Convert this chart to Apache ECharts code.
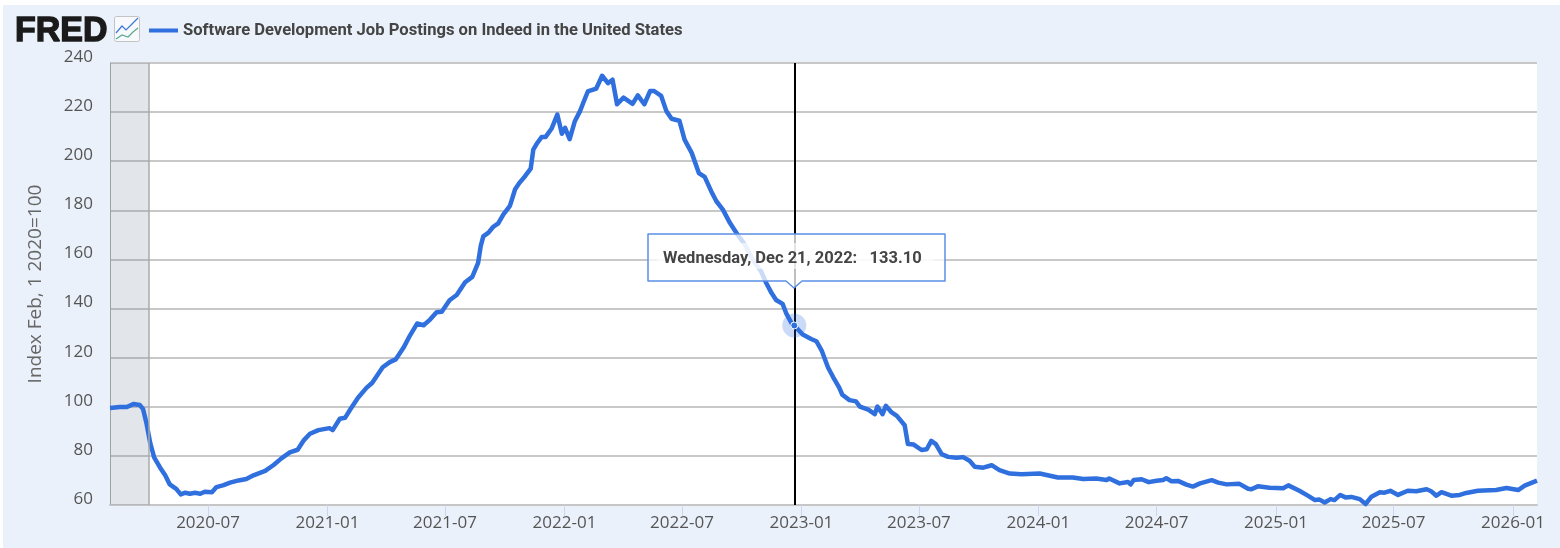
<!DOCTYPE html>
<html><head><meta charset="utf-8">
<script src="https://cdn.jsdelivr.net/npm/echarts@6/dist/echarts.min.js"></script>
<style>html,body{margin:0;padding:0;background:#fff}#c{width:1560px;height:548px}</style>
</head><body><div id="c"></div>
<script>
const seriesName = 'Software Development Job Postings on Indeed in the United States';
const yAxisTitle = 'Index Feb, 1 2020=100';
const startDate = '2020-02-01';
const endDate = '2026-02-07';
const recessionEnd = '2020-04-01';
const xTickLabels = ['2020-07','2021-01','2021-07','2022-01','2022-07','2023-01','2023-07','2024-01','2024-07','2025-01','2025-07','2026-01'];
const yTicks = [60,80,100,120,140,160,180,200,220,240];
const dayOffsets = [0,3,15,26,36,46,51,56,62,68,77,85,92,102,109,116,123,131,139,146,157,164,175,185,198,210,221,239,252,264,277,289,298,308,321,338,343,354,362,371,382,395,404,420,431,440,452,462,473,483,493,503,511,523,534,547,558,567,571,575,583,590,598,606,616,624,631,639,648,652,657,665,671,680,689,696,701,708,716,724,729,736,749,758,767,774,781,791,805,813,823,832,838,849,857,865,877,885,896,907,916,926,934,944,955,967,978,990,1003,1011,1019,1026,1036,1042,1050,1054,1067,1080,1088,1096,1106,1114,1123,1128,1139,1149,1155,1168,1178,1182,1190,1195,1204,1212,1224,1229,1238,1250,1258,1265,1272,1281,1291,1304,1314,1324,1332,1345,1358,1370,1386,1404,1432,1460,1483,1499,1519,1535,1539,1555,1568,1572,1577,1589,1600,1612,1622,1627,1635,1645,1658,1668,1679,1697,1707,1720,1739,1753,1758,1768,1786,1807,1815,1832,1845,1856,1863,1871,1880,1886,1895,1903,1912,1925,1934,1943,1956,1963,1972,1984,1999,2012,2028,2035,2043,2051,2066,2079,2089,2107,2135,2151,2169,2179,2198];
const postings = [99.5,99.7,99.9,99.9,101.1,100.7,99,93.5,85.2,79.4,75.3,72.1,68.4,66.6,64.3,65,64.6,65,64.6,65.4,65.2,67.3,68.1,69.1,70,70.6,72.1,73.9,76.3,79,81.4,82.5,86.2,89,90.5,91.3,90.5,95.1,95.5,99.3,103.7,107.7,109.8,116.1,118.2,119.3,124,129,133.9,133.2,135.5,138.5,138.7,143.4,145.5,150.7,152.9,158.6,165.4,169.4,170.9,173.2,174.7,178.4,181.8,188.6,191.3,193.8,197,204.7,207,209.9,209.9,213.2,219,211.2,213.6,209,216.3,220.4,223.8,228.4,229.6,234.8,231.8,233.2,223.2,225.9,223.4,226.8,223.2,228.6,228.6,226.6,220.4,217.3,216.5,208.8,203.4,195.2,193.6,187.8,183.7,180.3,174.8,170,166,159.9,155.1,150.3,146.3,143.5,141.9,137.8,134,133.1,129.4,127.6,126.7,123,116,112,107.9,104.9,102.7,102.2,100.1,98.8,97,100.1,97,100.4,97.7,96.3,92.5,84.8,84.6,82.4,82.7,86.1,84.8,80.7,79.6,79.2,79.5,78,75.6,75.2,76.2,74.2,72.8,72.5,72.8,71.2,71.2,70.6,70.8,70.2,70.8,68.8,69.4,68.4,70.2,70.5,69.3,69.9,70.2,70.9,69.7,69.8,68.3,67.5,68.8,70.1,69.1,68.4,68.7,66.6,66.4,67.6,67,66.8,68,65.8,63.8,62,62.2,61,62.4,62,64.1,63.1,63.3,62.4,60.4,63.4,65.2,65,65.8,64.1,65.8,65.6,66.4,65.6,63.8,65.2,63.8,64.1,64.9,65.8,66.1,66.9,66.1,67.9,69.9];
const tipDate = '2022-12-21';
const tipDateLabel = 'Wednesday, Dec 21, 2022';
const tipValue = 133.10;

const BLUE = '#2f6fde';
const DAY = 86400000;
const ts = s => Date.parse(s + (s.length === 7 ? '-01' : '') + 'T00:00:00Z');
const seriesData = dayOffsets.map((d, i) => [ts(startDate) + d * DAY, postings[i]]);
const xTicks = xTickLabels.map(ts);
const SANS = '"Open Sans", sans-serif';

const chart = echarts.init(document.getElementById('c'), null, {renderer: 'canvas'});
chart.setOption({
  animation: false,
  textStyle: {fontFamily: SANS},
  graphic: [
    {type: 'rect', z: -10, silent: true, shape: {x: 3, y: 5, width: 1557, height: 543}, style: {fill: '#ebf1fa'}},
    {type: 'text', x: 15, y: 14, scaleX: 0.97, style: {text: 'FRED', fill: '#1a1a1a', stroke: '#1a1a1a', lineWidth: 1.4, font: 'bold 35px "Liberation Sans", sans-serif'}},
    {type: 'group', children: [
      {type: 'rect', shape: {x: 114.5, y: 16.5, width: 25, height: 25, r: 2}, style: {fill: '#f7f9fc', stroke: '#c4c4c4', lineWidth: 1}},
      {type: 'polyline', shape: {points: [[116,33],[122,26],[126,30],[132,24],[138,18]]}, style: {stroke: '#3c78d8', lineWidth: 1.2, fill: null}},
      {type: 'polyline', shape: {points: [[116,39],[122,35],[128,37],[133,32],[138,28]]}, style: {stroke: '#5aa98f', lineWidth: 1.2, fill: null}}
    ]}
  ],
  legend: {
    show: true, left: 144, top: 17, data: [{name: seriesName, icon: 'rect'}],
    itemWidth: 29, itemHeight: 4, selectedMode: false,
    textStyle: {fontFamily: 'Roboto, sans-serif', fontWeight: 'bold', fontSize: 16.6, color: '#444'}
  },
  grid: {left: 110, right: 23, top: 63, bottom: 43, show: true, backgroundColor: '#fff', borderWidth: 0},
  xAxis: {
    type: 'value', min: ts(startDate), max: ts(endDate), scale: true,
    axisLine: {show: true, lineStyle: {color: '#c6c6c6', width: 2}},
    axisTick: {show: true, length: 11, customValues: xTicks, lineStyle: {color: '#ccd6eb', width: 1}},
    axisLabel: {
      customValues: xTicks, margin: 10, fontFamily: SANS, fontSize: 17, color: '#555', hideOverlap: false,
      formatter: v => new Date(v).toISOString().slice(0, 7)
    },
    splitLine: {show: false}
  },
  yAxis: {
    type: 'value', min: yTicks[0], max: yTicks[yTicks.length - 1], interval: 20,
    name: yAxisTitle, nameLocation: 'middle', nameGap: 65, nameRotate: 90,
    nameTextStyle: {fontFamily: SANS, fontSize: 19, color: '#666'},
    axisLine: {show: true, lineStyle: {color: '#aaa', width: 1}},
    axisTick: {show: false},
    axisLabel: {margin: 17, fontFamily: SANS, fontSize: 17, lineHeight: 12, color: '#555', verticalAlign: 'bottom'},
    splitLine: {show: true, lineStyle: {color: '#c8c8c8', width: 2}}
  },
  series: [
    {
      name: seriesName, type: 'line', data: seriesData, showSymbol: false, symbol: 'none', z: 3,
      lineStyle: {color: BLUE, width: 4.5, join: 'round'}, itemStyle: {color: BLUE},
      markArea: {silent: true, itemStyle: {color: 'rgba(110,125,145,0.2)'},
        data: [[{xAxis: ts(startDate)}, {xAxis: ts(recessionEnd)}]]},
      markLine: {silent: true, symbol: 'none', label: {show: false}, animation: false,
        data: [
          {xAxis: ts(recessionEnd), lineStyle: {color: '#aaa', width: 1.5, type: 'solid'}},
          {xAxis: ts(tipDate), lineStyle: {color: '#000', width: 2, type: 'solid'}}
        ]}
    },
    {
      name: 'tip', type: 'custom', z: 10, clip: false, silent: true,
      data: [[ts(tipDate), tipValue]],
      encode: {x: 0, y: 1},
      renderItem: (params, api) => {
        const p = api.coord([api.value(0), api.value(1)]);
        const x = Math.round(p[0]), y = Math.round(p[1]);
        const L = x - 146, R = x + 151, T = y - 91, B = y - 44;
        return {type: 'group', children: [
          {type: 'circle', shape: {cx: p[0], cy: p[1], r: 12}, style: {fill: 'rgba(47,111,222,0.25)'}},
          {type: 'circle', shape: {cx: p[0], cy: p[1], r: 3.5}, style: {fill: BLUE, stroke: '#fff', lineWidth: 1}},
          {type: 'polygon', shape: {points: [[L,T],[R,T],[R,B],[x+8,B],[x,B+7],[x-8,B],[L,B]]},
            style: {fill: 'rgba(255,255,255,0.75)', stroke: '#5b8fe6', lineWidth: 1.5, lineJoin: 'round'}},
          {type: 'rect', shape: {x: L+9, y: T+9, width: 277, height: 26}, style: {fill: 'rgba(255,255,255,0.6)'}},
          {type: 'text', x: L+15, y: T+24.5, style: {
            text: tipDateLabel + ':\u00a0\u00a0\u00a0' + tipValue.toFixed(2),
            font: 'bold 16.5px Roboto, sans-serif', fill: '#444', verticalAlign: 'middle', align: 'left'}}
        ]};
      }
    }
  ]
});
</script></body></html>
